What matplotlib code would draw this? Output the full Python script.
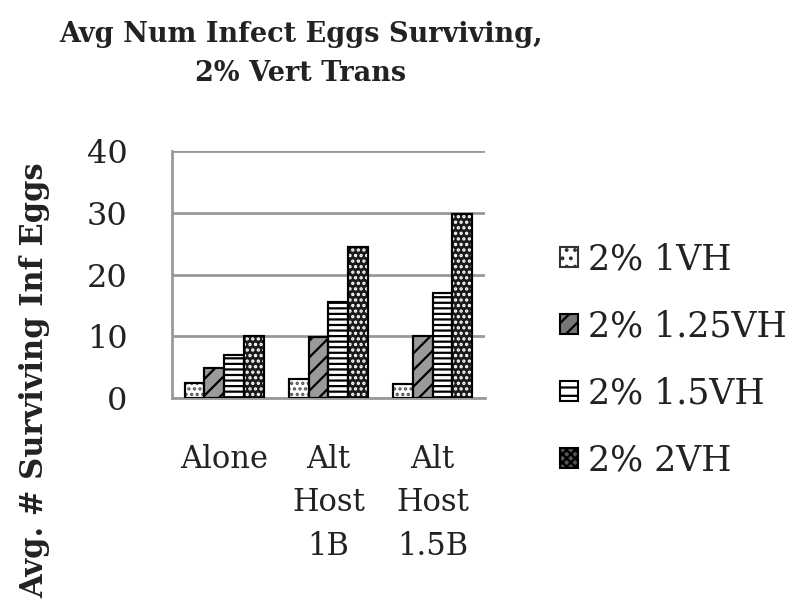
import numpy as np
import matplotlib
matplotlib.use("Agg")
import matplotlib.pyplot as plt
from matplotlib.patches import Patch

categories = ["Alone", "Alt\nHost\n1B", "Alt\nHost\n1.5B"]
series = ["2% 1VH", "2% 1.25VH", "2% 1.5VH", "2% 2VH"]
vals_1vh = [2.4, 3.0, 2.2]
vals_125vh = [4.9, 9.8, 10.0]
vals_15vh = [6.9, 15.5, 17.0]
vals_2vh = [10.0, 24.4, 29.8]
yticks = [0, 10, 20, 30, 40]

plt.rcParams['font.family'] = ['DejaVu Serif']
plt.rcParams['hatch.linewidth'] = 1.6
txt = '#222222'

fig = plt.figure(figsize=(8, 6.09), dpi=100)
ax = fig.add_axes([0.215, 0.3465, 0.391, 0.4055])

# (face, hatch, hatch colour)
styles = [('white', '...', '#555555'),
          ('#9a9a9a', '//', 'black'),
          ('white', '---', 'black'),
          ('#1a1a1a', '...', 'white')]
data = [vals_1vh, vals_125vh, vals_15vh, vals_2vh]
x = np.arange(len(categories))
w = 0.19
for i, (vals, (fc, hatch, hc)) in enumerate(zip(data, styles)):
    pos = x + (i - 1.5) * w
    ax.bar(pos, vals, w, color=fc, edgecolor='black', linewidth=1.5, zorder=2)
    ax.bar(pos, vals, w, color='none', edgecolor=hc, hatch=hatch, linewidth=0, zorder=3)
    ax.bar(pos, vals, w, color='none', edgecolor='black', linewidth=1.5, zorder=4)

ax.set_xlim(-0.5, 2.5)
ax.set_ylim(0, 40)
ax.set_yticks(yticks)
ax.set_xticks(x)
ax.set_xticklabels(categories, fontsize=22, color=txt, linespacing=1.52, va='top')
ax.tick_params(axis='y', length=0, pad=32, labelsize=23, labelcolor=txt)
ax.tick_params(axis='x', length=0, pad=33)
ax.yaxis.grid(True, color='#999999', linewidth=2, zorder=0)
ax.set_axisbelow(True)
for s in ['top', 'right']:
    ax.spines[s].set_visible(False)
for s in ['left', 'bottom']:
    ax.spines[s].set_color('#999999')
    ax.spines[s].set_linewidth(2)

# legend swatches
handles = [Patch(facecolor='white', edgecolor='#333333', hatch='..', linewidth=1.5),
           Patch(facecolor='#777777', edgecolor='black', hatch='//', linewidth=1.5),
           Patch(facecolor='white', edgecolor='black', hatch='--', linewidth=1.5),
           Patch(facecolor='#555555', edgecolor='black', hatch='xxxx', linewidth=1.5)]
leg = fig.legend(handles, series, loc='upper left', bbox_to_anchor=(0.683, 0.625),
                 frameon=False, fontsize=25, labelspacing=0.95, handlelength=0.5,
                 handleheight=0.5, handletextpad=0.3, borderaxespad=0)
for t in leg.get_texts():
    t.set_color(txt)

fig.text(0.376, 0.911, "Avg Num Infect Eggs Surviving,\n2% Vert Trans", ha='center',
         va='center', fontsize=19.5, fontweight='bold', color=txt, linespacing=1.55)
fig.text(0.044, 0.376, "Avg. # Surviving Inf Eggs", rotation=90, ha='center',
         va='center', fontsize=22, fontweight='bold', color=txt)

fig.savefig("out.png", dpi=100)
